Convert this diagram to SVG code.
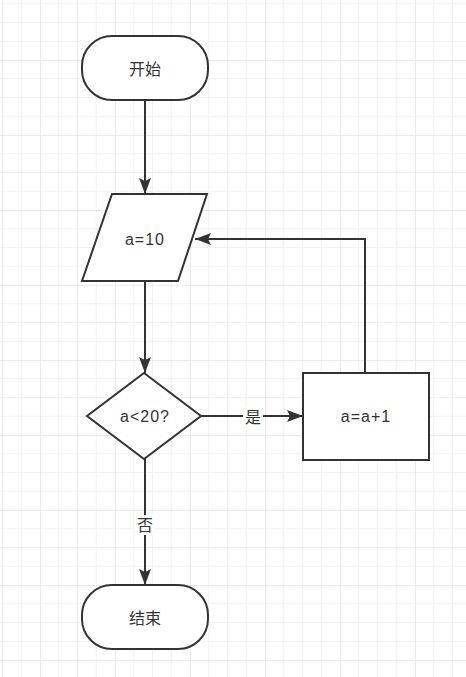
<svg xmlns="http://www.w3.org/2000/svg" width="466" height="677" viewBox="0 0 466 677">
<defs>
<pattern id="grid" patternUnits="userSpaceOnUse" x="40" y="60" width="75" height="75">
<rect x="18.25" y="0" width="1" height="75" fill="#f1f1f1"/>
<rect x="37" y="0" width="1" height="75" fill="#f1f1f1"/>
<rect x="55.75" y="0" width="1" height="75" fill="#f1f1f1"/>
<rect x="0" y="18.25" width="75" height="1" fill="#f1f1f1"/>
<rect x="0" y="37" width="75" height="1" fill="#f1f1f1"/>
<rect x="0" y="55.75" width="75" height="1" fill="#f1f1f1"/>
<rect x="-0.5" y="0" width="1.2" height="75" fill="#e3e3e3"/>
<rect x="0" y="-0.5" width="75" height="1.2" fill="#e3e3e3"/>
</pattern>
<marker id="arrow" markerUnits="userSpaceOnUse" markerWidth="18" markerHeight="14" refX="16" refY="6" orient="auto">
<path d="M0,0 L16,6 L0,12 L3,6 Z" fill="#333"/>
</marker>
<style>
.shape{fill:#fff;stroke:#333;stroke-width:2}
.edge{fill:none;stroke:#333;stroke-width:2}
.lbl{font-family:"Liberation Sans","Noto Sans CJK SC",sans-serif;font-size:16px;fill:#333;text-anchor:middle;dominant-baseline:central}
.ltr{letter-spacing:1px}
</style>
</defs>
<rect width="466" height="677" fill="#fff"/>
<rect width="466" height="677" fill="url(#grid)"/>
<g id="connectors">
<line class="edge" x1="145" y1="100" x2="145" y2="194" marker-end="url(#arrow)"/>
<line class="edge" x1="145" y1="281" x2="145" y2="373" marker-end="url(#arrow)"/>
<line class="edge" x1="201" y1="416" x2="303" y2="416" marker-end="url(#arrow)"/>
<polyline class="edge" points="365,373 365,239 195,239" marker-end="url(#arrow)"/>
<line class="edge" x1="145" y1="459" x2="145" y2="585" marker-end="url(#arrow)"/>
<rect x="243" y="406" width="20" height="20" fill="#fff"/>
<text class="lbl" x="253" y="417">是</text>
<rect x="135" y="515" width="20" height="20" fill="#fff"/>
<text class="lbl" x="145" y="525">否</text>
</g>
<g id="start">
<rect class="shape" x="82" y="36" width="126" height="64" rx="30" ry="30"/>
<text class="lbl" x="145" y="69">开始</text>
</g>
<g id="input">
<polygon class="shape" points="112,194 207,194 178,281 82,281"/>
<text class="lbl ltr" x="145" y="239">a=10</text>
</g>
<g id="decision">
<polygon class="shape" points="144,373 201,416 144,459 87,416"/>
<text class="lbl ltr" x="145" y="416">a&lt;20?</text>
</g>
<g id="increment">
<rect class="shape" x="303" y="373" width="126" height="87"/>
<text class="lbl ltr" x="366" y="416">a=a+1</text>
</g>
<g id="end">
<rect class="shape" x="82" y="585" width="126" height="64" rx="30" ry="30"/>
<text class="lbl" x="145" y="618">结束</text>
</g>
</svg>
